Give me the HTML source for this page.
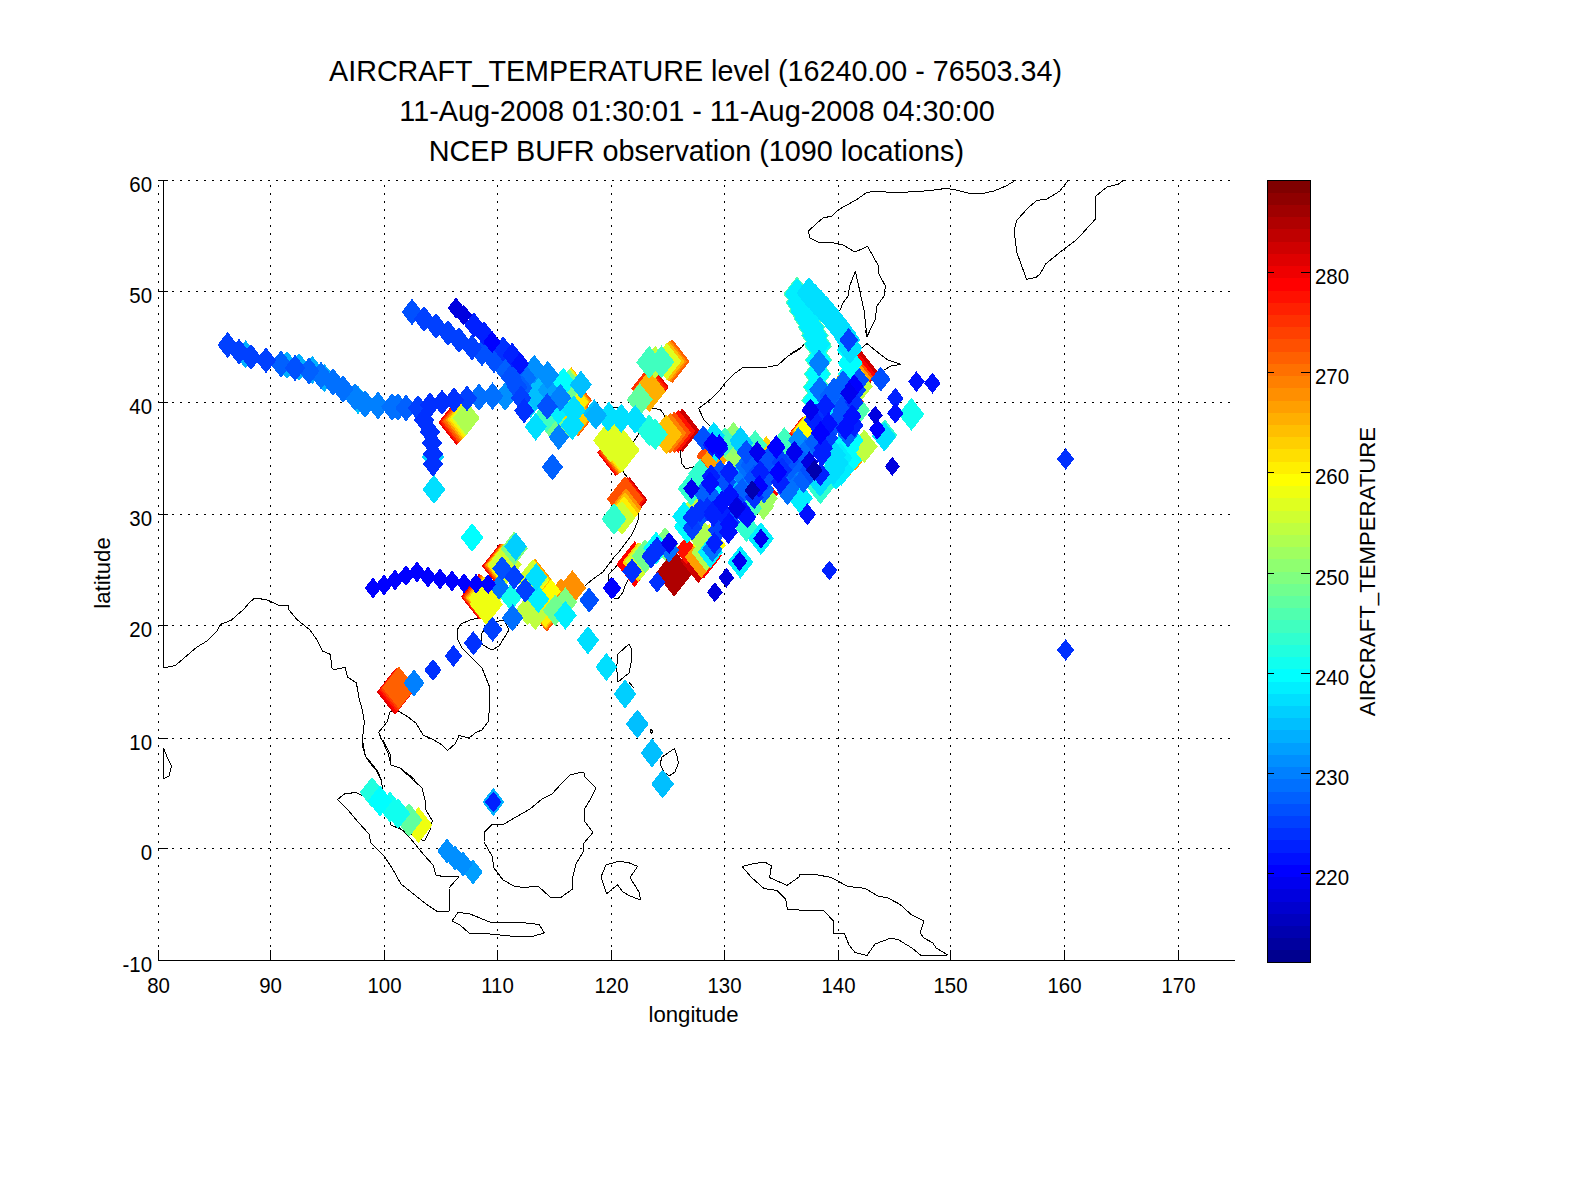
<!DOCTYPE html>
<html><head><meta charset="utf-8"><title>AIRCRAFT_TEMPERATURE</title>
<style>html,body{margin:0;padding:0;background:#fff;}svg{display:block}text{font-family:"Liberation Sans",sans-serif;fill:#000}</style></head><body>
<svg width="1575" height="1200" viewBox="0 0 1575 1200">
<rect width="1575" height="1200" fill="#fff"/>
<g stroke="#000" stroke-width="1" fill="none" shape-rendering="crispEdges" stroke-dasharray="2 6">
<path d="M158.5 185V950"/>
<path d="M270.5 185V950"/>
<path d="M384.5 185V950"/>
<path d="M497.5 185V950"/>
<path d="M611.5 185V950"/>
<path d="M724.5 185V950"/>
<path d="M838.5 185V950"/>
<path d="M950.5 185V950"/>
<path d="M1064.5 185V950"/>
<path d="M1178.5 185V950"/>
</g>
<g stroke="#000" stroke-width="1" fill="none" shape-rendering="crispEdges" stroke-dasharray="2 6">
<path d="M172 180.5H1232"/>
<path d="M172 291.5H1232"/>
<path d="M172 402.5H1232"/>
<path d="M172 514.5H1232"/>
<path d="M172 625.5H1232"/>
<path d="M172 738.5H1232"/>
<path d="M172 848.5H1232"/>
</g>
<g stroke="#000" stroke-width="1" fill="none" stroke-linejoin="round" shape-rendering="crispEdges">
<path d="M1016 180 L1006 186 L994 191 L982 193.6 L968 193 L956 190 L946 188.4 L930 190.6 L908 192 L886 192 L874 191 L866 193 L856 200 L845 206 L838 210 L832 216 L823 218 L816 224 L808.4 231 L810 238 L818 242 L834 243 L843 245 L855 252 L867.6 246.4 L873 256 L878 265 L879 274 L885.4 286 L884 296 L877 306 L875 320 L867 336.6 L864 310 L860 292 L855.4 271.4 L850 285 L848 296 L843 303 L840 310 L830 322 L814 336 L806 342 L802 347 L790 354"/>
<path d="M859 350 L867 343.6 L876 351 L888 360 L901 364.4 L891 366 L884 370 L878 376 L870 382"/>
<path d="M1124 180 L1118 184.4 L1107 187 L1096 196 L1095.6 219 L1089 226 L1082 234 L1075 241 L1064 249 L1046 263.6 L1040 274 L1036 277.4 L1026.6 279.4 L1017 253 L1015 238 L1014 230 L1017 220 L1029 207 L1037 200.4 L1047 199 L1060 191 L1068 180.4"/>
<path d="M810 338 L806 342.4 L800 349 L788 356 L778 365 L768 367 L743 367.4 L734 374 L726 382 L720 390 L712 398 L706 403 L698.6 408.4 L704 420 L710 426 L713 430 L718 438"/>
<path d="M680 450 L681 458 L682 464 L686 469 L706 463 L714 460"/>
<path d="M608 408 L613 407.4 L618 407.4 L628 413 L632 416"/>
<path d="M648 408.4 L652 408.4 L660 409.4 L663.6 413.6 L665 418"/>
<path d="M640 431 L638 435 L634 441 L632 445"/>
<path d="M620 468 L622 470 L627 477 L630 482"/>
<path d="M865 330 L867 336.6 L870 330"/>
<path d="M163.5 180 L163.5 668"/>
<path d="M163.6 668 L175 665.6 L183 659 L197 647 L207 641 L217 631 L220.4 624.4 L231 620.4 L244 609 L250 602 L254.4 598.4 L266 599.4 L278 605 L288.4 605.4 L289 610 L297 619.6 L310 630 L317 640 L322.4 651 L330.4 654.4 L332 668 L334 669.6 L345 667.4 L347.6 677 L356.4 683 L359 698 L362.4 710 L364.4 722 L362.4 740 L365 755 L369 762 L376 770 L381 780"/>
<path d="M397 708 L390 712 L387 722 L378.6 732.4 L383 742 L388 753 L391 765 L400 768 L408 774 L415 780"/>
<path d="M397 710 L400 712 L408 717 L416 723 L423 735 L434 740 L442 745 L447.6 750.4 L455 744 L459 735.6 L465 737"/>
<path d="M163.6 748 L167 757 L171.6 766 L169 776 L163.6 779 L163.6 748"/>
<path d="M459 735.6 L469 738 L476 732.4 L482 730 L488 722 L489.4 710 L490 688 L486 678 L482 668 L472 658 L462 648 L458 640 L457 630 L461 624 L470 620 L480 617.6 L490 617"/>
<path d="M481 634 L490 623 L504 620 L509 630 L499 646 L492 650 L481 644 L481 634"/>
<path d="M629 644 L618 654 L616.6 668 L618 682 L629 673 L631.6 660 L631 648 L629 644"/>
<path d="M629 682.4 L634 688"/>
<path d="M651 729 L652.4 731 L651.6 734 L650 732 L651 729"/>
<path d="M608 578 L609 574 L614 569 L619 563 L626 560 L631 566 L630 576 L625 586 L623 592 L618 599 L614 598 L609 588 L608 578"/>
<path d="M362 740 L363 748 L366 757 L373 765 L378 772 L381 779 L382.4 787 L385 798 L390 808 L390.6 825 L398 828 L410 834 L424.4 841 L430 830 L432.4 821 L426 810 L425 800 L422 788 L410 777 L400 768 L391 765 L390 754 L383 740"/>
<path d="M360 794.4 L356 792.6 L345 793.6 L337.6 799.4 L348 810 L358 822 L369 834 L371 843 L384 856 L392 868 L401 884 L416 896 L426 904 L437 911.4 L449.6 911 L449 888 L459 876.6 L445 877 L436 875 L433 865 L424 855 L410 838 L396 824 L380 806 L360 794.4"/>
<path d="M492 824.4 L504 824 L516 817 L530 809 L542 799 L552 794 L562 783 L570 775 L580 772.4 L584 773 L585 777 L596 788 L590 800 L584 810 L585 822 L593 832.4 L584 843 L583 852 L576 864 L573 876 L572.6 889 L560 898 L550 897 L538 886 L524 887.6 L514 886 L503 880 L494 868 L492 856 L484 842 L484.4 832 L492 824.4"/>
<path d="M452 921 L458 912.4 L470 914 L480 918 L492 923 L520 922.4 L539 924.4 L544.4 933 L530 937 L510 936 L490 934 L469 933 L460 925 L452 921"/>
<path d="M601 877 L606 865 L618 861.4 L628 862.4 L637.6 866.4 L630 877.6 L634 884 L639 892 L640.6 900 L630 896 L623 892 L617.6 885 L612 889 L606.6 894 L604 886 L601 877"/>
<path d="M674.6 748.4 L677 756 L678.4 763 L675 772 L669 776 L664 772 L660 764 L662 757 L674.6 748.4"/>
<path d="M742 866.4 L752 864 L765 862 L771.4 866 L769.6 877.6 L787 885.4 L799 877 L800 874.4 L816 874.6 L831 877.4 L844 884.4 L848 886.4 L865 888.4 L878 896 L888 898 L900 904.4 L911 914.4 L924 921 L920 933 L924 938 L933 943 L936 948 L948 955 L921 955.4 L912 948 L902 942 L898 939.4 L890 938.4 L875 944 L867 955.4 L855 952.4 L849 945 L844.4 933.4 L833.4 933.4 L833.4 921 L823.6 910.4 L806 910.4 L787.4 909.4 L785.6 899 L777 890.4 L764 888.6 L751 877 L742 866.4"/>
<path d="M577 593 L580 590 L586 585 L593 579 L603 572 L609 564 L614 557 L619 552 L625 544 L631 536 L635 528 L638 520 L639 517 L638.6 512"/>
<path d="M622 470 L623 472 L627 477 L629 480"/>
</g>
<g shape-rendering="crispEdges">
<path fill="#af0000" d="M674.194 549.716L692.759 573.216L674.194 596.716L655.629 573.216Z"/>
<path fill="#cf0000" d="M682.292 408.317L699.672 430.317L682.292 452.317L664.912 430.317Z"/>
<path fill="#cf0000" d="M629.4 477L647.57 500L629.4 523L611.23 500Z"/>
<path fill="#cf0000" d="M698.27 539.178L715.65 561.178L698.27 583.178L680.89 561.178Z"/>
<path fill="#cf0000" d="M860.222 349.603L878.392 372.603L860.222 395.603L842.052 372.603Z"/>
<path fill="#df0000" d="M651.394 364.98L668.774 386.98L651.394 408.98L634.014 386.98Z"/>
<path fill="#df0000" d="M395 669L413.17 692L395 715L376.83 692Z"/>
<path fill="#ef0000" d="M456.6 399.4L474.77 422.4L456.6 445.4L438.43 422.4Z"/>
<path fill="#ef0000" d="M500.143 543.13L518.313 566.13L500.143 589.13L481.973 566.13Z"/>
<path fill="#ef0000" d="M479.076 573.727L497.246 596.727L479.076 619.727L460.906 596.727Z"/>
<path fill="#ef0000" d="M615.4 429.8L633.57 452.8L615.4 475.8L597.23 452.8Z"/>
<path fill="#ef0000" d="M801.585 417.608L814.62 434.108L801.585 450.608L788.55 434.108Z"/>
<path fill="#ff0000" d="M634.568 541.187L652.738 564.187L634.568 587.187L616.398 564.187Z"/>
<path fill="#ff0000" d="M703.787 532.66L721.957 555.66L703.787 578.66L685.617 555.66Z"/>
<path fill="#ff0000" d="M770.286 484.298L778.186 494.298L770.286 504.298L762.386 494.298Z"/>
<path fill="#ff0000" d="M857.413 351.61L875.583 374.61L857.413 397.61L839.243 374.61Z"/>
<path fill="#ff0000" d="M396 668.4L413.775 690.9L396 713.4L378.225 690.9Z"/>
<path fill="#ff1000" d="M650.19 365.683L667.57 387.683L650.19 409.683L632.81 387.683Z"/>
<path fill="#ff1000" d="M678.279 409.821L695.264 431.321L678.279 452.821L661.294 431.321Z"/>
<path fill="#ff1000" d="M627.4 476.6L645.57 499.6L627.4 522.6L609.23 499.6Z"/>
<path fill="#ff1000" d="M686.232 536.143L697.292 550.143L686.232 564.143L675.172 550.143Z"/>
<path fill="#ff2000" d="M457.825 399.6L475.402 421.85L457.825 444.1L440.248 421.85Z"/>
<path fill="#ff2000" d="M616.4 429.543L634.457 452.4L616.4 475.257L598.343 452.4Z"/>
<path fill="#ff2000" d="M802.347 417.205L814.987 433.205L802.347 449.205L789.707 433.205Z"/>
<path fill="#ff2000" d="M397 667.8L414.38 689.8L397 711.8L379.62 689.8Z"/>
<path fill="#ff3000" d="M648.485 366.686L665.865 388.686L648.485 410.686L631.105 388.686Z"/>
<path fill="#ff3000" d="M501.146 543.229L519 565.829L501.146 588.429L483.292 565.829Z"/>
<path fill="#ff3000" d="M480.28 574.428L498.134 597.028L480.28 619.628L462.426 597.028Z"/>
<path fill="#ff4000" d="M617.4 429.286L635.344 452L617.4 474.714L599.456 452Z"/>
<path fill="#ff4000" d="M851.194 385.197L864.624 402.197L851.194 419.197L837.764 402.197Z"/>
<path fill="#ff4000" d="M398 667.2L414.985 688.7L398 710.2L381.015 688.7Z"/>
<path fill="#ff5000" d="M459.05 399.8L476.035 421.3L459.05 442.8L442.065 421.3Z"/>
<path fill="#ff5000" d="M575.333 379.19L591.923 400.19L575.333 421.19L558.743 400.19Z"/>
<path fill="#ff5000" d="M578.343 394.238L594.933 415.238L578.343 436.238L561.753 415.238Z"/>
<path fill="#ff5000" d="M674.267 411.324L690.857 432.324L674.267 453.324L657.677 432.324Z"/>
<path fill="#ff5000" d="M546.79 588.77L563.775 610.27L546.79 631.77L529.805 610.27Z"/>
<path fill="#ff5000" d="M625 476L643.17 499L625 522L606.83 499Z"/>
<path fill="#ff5000" d="M712.102 436.178L727.902 456.178L712.102 476.178L696.302 456.178Z"/>
<path fill="#ff5000" d="M855.206 354.116L872.981 376.616L855.206 399.116L837.431 376.616Z"/>
<path fill="#ff5000" d="M846.178 367.152L862.768 388.152L846.178 409.152L829.588 388.152Z"/>
<path fill="#ff6000" d="M672.26 339.299L689.64 361.299L672.26 383.299L654.88 361.299Z"/>
<path fill="#ff6000" d="M481.484 575.129L499.022 597.329L481.484 619.529L463.946 597.329Z"/>
<path fill="#ff6000" d="M803.11 416.802L815.355 432.302L803.11 447.802L790.865 432.302Z"/>
<path fill="#ff6000" d="M399 666.6L415.59 687.6L399 708.6L382.41 687.6Z"/>
<path fill="#ff7000" d="M460.275 400L476.667 420.75L460.275 441.5L443.882 420.75Z"/>
<path fill="#ff7000" d="M574.832 380.192L591.027 400.692L574.832 421.192L558.637 400.692Z"/>
<path fill="#ff7000" d="M502.149 543.328L519.687 565.528L502.149 587.728L484.611 565.528Z"/>
<path fill="#ff7000" d="M618.4 429.029L636.231 451.6L618.4 474.171L600.569 451.6Z"/>
<path fill="#ff7000" d="M840.219 443.575L856.019 463.575L840.219 483.575L824.419 463.575Z"/>
<path fill="#ff8000" d="M577.674 395.239L593.737 415.572L577.674 435.906L561.611 415.572Z"/>
<path fill="#ff8000" d="M670.254 412.827L686.449 433.327L670.254 453.827L654.059 433.327Z"/>
<path fill="#ff8000" d="M546.289 588.934L562.616 609.601L546.289 630.268L529.962 609.601Z"/>
<path fill="#ff8f00" d="M670.254 340.299L686.844 361.299L670.254 382.299L653.664 361.299Z"/>
<path fill="#ff8f00" d="M535.254 558.676L552.634 580.676L535.254 602.676L517.874 580.676Z"/>
<path fill="#ff8f00" d="M572.371 570.198L586.196 587.698L572.371 605.198L558.546 587.698Z"/>
<path fill="#ff8f00" d="M560.835 578.219L573.475 594.219L560.835 610.219L548.195 594.219Z"/>
<path fill="#ff8f00" d="M626 488L641.8 508L626 528L610.2 508Z"/>
<path fill="#ff8f00" d="M803.872 416.399L815.722 431.399L803.872 446.399L792.022 431.399Z"/>
<path fill="#ff8f00" d="M848.044 437.857L863.844 457.857L848.044 477.857L832.244 457.857Z"/>
<path fill="#ff9f00" d="M461.5 400.2L477.3 420.2L461.5 440.2L445.7 420.2Z"/>
<path fill="#ff9f00" d="M574.33 381.194L590.13 401.194L574.33 421.194L558.53 401.194Z"/>
<path fill="#ff9f00" d="M577.005 396.24L592.542 415.907L577.005 435.574L561.469 415.907Z"/>
<path fill="#ff9f00" d="M482.688 575.83L499.91 597.63L482.688 619.43L465.466 597.63Z"/>
<path fill="#ff9f00" d="M619.4 428.771L637.119 451.2L619.4 473.629L601.681 451.2Z"/>
<path fill="#ff9f00" d="M701.279 536.165L717.869 557.165L701.279 578.165L684.689 557.165Z"/>
<path fill="#ff9f00" d="M714.61 442.187L728.04 459.187L714.61 476.187L701.18 459.187Z"/>
<path fill="#ff9f00" d="M853.702 355.92L871.082 377.92L853.702 399.92L836.322 377.92Z"/>
<path fill="#ff9f00" d="M855.768 430.032L871.568 450.032L855.768 470.032L839.968 450.032Z"/>
<path fill="#ffaf00" d="M571.321 367.149L587.121 387.149L571.321 407.149L555.521 387.149Z"/>
<path fill="#ffaf00" d="M649.187 370.194L665.777 391.194L649.187 412.194L632.597 391.194Z"/>
<path fill="#ffaf00" d="M503.152 543.427L520.374 565.227L503.152 587.027L485.93 565.227Z"/>
<path fill="#ffbf00" d="M668.749 341.299L684.549 361.299L668.749 381.299L652.949 361.299Z"/>
<path fill="#ffbf00" d="M666.241 414.33L682.041 434.33L666.241 454.33L650.441 434.33Z"/>
<path fill="#ffbf00" d="M534.251 559.008L551.104 580.342L534.251 601.675L517.397 580.342Z"/>
<path fill="#ffbf00" d="M545.787 589.099L561.456 608.932L545.787 628.766L530.119 608.932Z"/>
<path fill="#ffbf00" d="M625 492L640.01 511L625 530L609.99 511Z"/>
<path fill="#ffcf00" d="M462.725 400.4L477.933 419.65L462.725 438.9L447.518 419.65Z"/>
<path fill="#ffcf00" d="M573.829 382.195L589.234 401.695L573.829 421.195L558.424 401.695Z"/>
<path fill="#ffcf00" d="M576.337 397.241L591.347 416.241L576.337 435.241L561.327 416.241Z"/>
<path fill="#ffcf00" d="M483.891 576.531L500.797 597.931L483.891 619.331L466.985 597.931Z"/>
<path fill="#ffcf00" d="M620.4 428.514L638.006 450.8L620.4 473.086L602.794 450.8Z"/>
<path fill="#ffcf00" d="M638.079 542.181L653.879 562.181L638.079 582.181L622.279 562.181Z"/>
<path fill="#ffcf00" d="M766.273 436.159L777.333 450.159L766.273 464.159L755.213 450.159Z"/>
<path fill="#ffcf00" d="M804.634 415.997L816.089 430.497L804.634 444.997L793.179 430.497Z"/>
<path fill="#ffdf00" d="M852.197 358.124L868.787 379.124L852.197 400.124L835.607 379.124Z"/>
<path fill="#ffef00" d="M463.95 400.6L478.565 419.1L463.95 437.6L449.335 419.1Z"/>
<path fill="#ffef00" d="M570.694 367.648L585.901 386.898L570.694 406.148L555.486 386.898Z"/>
<path fill="#ffef00" d="M573.327 383.197L588.337 402.197L573.327 421.197L558.317 402.197Z"/>
<path fill="#ffef00" d="M504.156 543.526L521.062 564.926L504.156 586.326L487.25 564.926Z"/>
<path fill="#ffef00" d="M545.286 589.263L560.296 608.263L545.286 627.263L530.276 608.263Z"/>
<path fill="#ffef00" d="M621.4 428.257L638.893 450.4L621.4 472.543L603.907 450.4Z"/>
<path fill="#ffef00" d="M624 496L638.22 514L624 532L609.78 514Z"/>
<path fill="#ffff00" d="M533.248 559.341L549.574 580.007L533.248 600.674L516.921 580.007Z"/>
<path fill="#ffff00" d="M551.305 579.21L560.785 591.21L551.305 603.21L541.825 591.21Z"/>
<path fill="#ffff00" d="M709.305 524.127L725.895 545.127L709.305 566.127L692.715 545.127Z"/>
<path fill="#ffff00" d="M805.397 415.594L816.457 429.594L805.397 443.594L794.337 429.594Z"/>
<path fill="#efff10" d="M485.095 577.232L501.685 598.232L485.095 619.232L468.505 598.232Z"/>
<path fill="#efff10" d="M486.299 583.251L502.889 604.251L486.299 625.251L469.709 604.251Z"/>
<path fill="#efff10" d="M850.692 360.127L866.492 380.127L850.692 400.127L834.892 380.127Z"/>
<path fill="#efff10" d="M418.4 807L432.62 825L418.4 843L404.18 825Z"/>
<path fill="#dfff20" d="M465.175 400.8L479.197 418.55L465.175 436.3L451.153 418.55Z"/>
<path fill="#dfff20" d="M570.067 368.148L584.682 386.648L570.067 405.148L555.452 386.648Z"/>
<path fill="#dfff20" d="M666.743 342.799L681.358 361.299L666.743 379.799L652.128 361.299Z"/>
<path fill="#dfff20" d="M622.4 428L639.78 450L622.4 472L605.02 450Z"/>
<path fill="#dfff20" d="M610.4 418.4L627.78 440.4L610.4 462.4L593.02 440.4Z"/>
<path fill="#cfff30" d="M505.159 543.625L521.749 564.625L505.159 585.625L488.569 564.625Z"/>
<path fill="#cfff30" d="M532.244 559.673L548.044 579.673L532.244 599.673L516.444 579.673Z"/>
<path fill="#cfff30" d="M622 501L635.43 518L622 535L608.57 518Z"/>
<path fill="#cfff30" d="M640.086 542.178L655.096 561.178L640.086 580.178L625.076 561.178Z"/>
<path fill="#bfff40" d="M655.206 345.802L668.241 362.302L655.206 378.802L642.171 362.302Z"/>
<path fill="#bfff40" d="M527.229 595.27L539.079 610.27L527.229 625.27L515.379 610.27Z"/>
<path fill="#bfff40" d="M535.254 600.286L547.104 615.286L535.254 630.286L523.404 615.286Z"/>
<path fill="#bfff40" d="M694.044 493.34L705.104 507.34L694.044 521.34L682.984 507.34Z"/>
<path fill="#bfff40" d="M856.21 365.146L872.8 386.146L856.21 407.146L839.62 386.146Z"/>
<path fill="#bfff40" d="M864.235 429.337L877.665 446.337L864.235 463.337L850.805 446.337Z"/>
<path fill="#afff50" d="M466.4 401L479.83 418L466.4 435L452.97 418Z"/>
<path fill="#afff50" d="M569.44 368.647L583.462 386.397L569.44 404.147L555.417 386.397Z"/>
<path fill="#afff50" d="M706.295 533.149L721.305 552.149L706.295 571.149L691.285 552.149Z"/>
<path fill="#afff50" d="M703.286 520.105L717.506 538.105L703.286 556.105L689.066 538.105Z"/>
<path fill="#9fff60" d="M763.476 492.003L774.536 506.003L763.476 520.003L752.416 506.003Z"/>
<path fill="#9fff60" d="M734.171 442.178L745.231 456.178L734.171 470.178L723.111 456.178Z"/>
<path fill="#9fff60" d="M765.27 482.311L777.91 498.311L765.27 514.311L752.63 498.311Z"/>
<path fill="#8fff70" d="M560.286 413.286L573.716 430.286L560.286 447.286L546.856 430.286Z"/>
<path fill="#8fff70" d="M733.454 421.838L745.304 436.838L733.454 451.838L721.604 436.838Z"/>
<path fill="#8fff70" d="M733.168 428.133L744.228 442.133L733.168 456.133L722.108 442.133Z"/>
<path fill="#80ff80" d="M514.187 531.575L527.617 548.575L514.187 565.575L500.757 548.575Z"/>
<path fill="#80ff80" d="M565.349 587.244L577.199 602.244L565.349 617.244L553.499 602.244Z"/>
<path fill="#80ff80" d="M665.165 527.124L678.595 544.124L665.165 561.124L651.735 544.124Z"/>
<path fill="#70ff8f" d="M568.813 369.146L582.243 386.146L568.813 403.146L555.383 386.146Z"/>
<path fill="#70ff8f" d="M552.26 406.263L565.69 423.263L552.26 440.263L538.83 423.263Z"/>
<path fill="#70ff8f" d="M555.317 594.27L567.957 610.27L555.317 626.27L542.677 610.27Z"/>
<path fill="#70ff8f" d="M645.102 539.162L658.532 556.162L645.102 573.162L631.672 556.162Z"/>
<path fill="#60ff9f" d="M639.657 383.221L652.692 399.721L639.657 416.221L626.622 399.721Z"/>
<path fill="#60ff9f" d="M409 803L422.43 820L409 837L395.57 820Z"/>
<path fill="#50ffaf" d="M818.089 328.519L831.914 346.019L818.089 363.519L804.264 346.019Z"/>
<path fill="#50ffaf" d="M818.59 342.563L832.415 360.063L818.59 377.563L804.765 360.063Z"/>
<path fill="#50ffaf" d="M817.587 356.608L831.412 374.108L817.587 391.608L803.762 374.108Z"/>
<path fill="#50ffaf" d="M816.584 369.649L830.409 387.149L816.584 404.649L802.759 387.149Z"/>
<path fill="#50ffaf" d="M815.079 382.69L828.904 400.19L815.079 417.69L801.254 400.19Z"/>
<path fill="#50ffaf" d="M858.216 395.222L870.066 410.222L858.216 425.222L846.366 410.222Z"/>
<path fill="#50ffaf" d="M797 276.5L810.825 294L797 311.5L783.175 294Z"/>
<path fill="#50ffaf" d="M799.198 285.294L813.023 302.794L799.198 320.294L785.373 302.794Z"/>
<path fill="#50ffaf" d="M802.858 293.501L816.683 311.001L802.858 328.501L789.033 311.001Z"/>
<path fill="#50ffaf" d="M807.355 301.371L821.18 318.871L807.355 336.371L793.53 318.871Z"/>
<path fill="#50ffaf" d="M811.228 309.561L825.053 327.061L811.228 344.561L797.403 327.061Z"/>
<path fill="#50ffaf" d="M814.837 317.867L828.662 335.367L814.837 352.867L801.012 335.367Z"/>
<path fill="#50ffaf" d="M817.6 326.5L831.425 344L817.6 361.5L803.775 344Z"/>
<path fill="#40ffbf" d="M546.241 400.241L558.881 416.241L546.241 432.241L533.601 416.241Z"/>
<path fill="#40ffbf" d="M649.187 345.802L662.222 362.302L649.187 378.802L636.152 362.302Z"/>
<path fill="#40ffbf" d="M661.426 345.401L674.461 361.901L661.426 378.401L648.391 361.901Z"/>
<path fill="#40ffbf" d="M725.143 427.133L736.993 442.133L725.143 457.133L713.293 442.133Z"/>
<path fill="#40ffbf" d="M755.238 430.143L767.088 445.143L755.238 460.143L743.388 445.143Z"/>
<path fill="#40ffbf" d="M784.33 427.133L796.18 442.133L784.33 457.133L772.48 442.133Z"/>
<path fill="#40ffbf" d="M750.222 493.343L762.072 508.343L750.222 523.343L738.372 508.343Z"/>
<path fill="#30ffcf" d="M614 503L626.64 519L614 535L601.36 519Z"/>
<path fill="#30ffcf" d="M746.422 512.07L758.272 527.07L746.422 542.07L734.572 527.07Z"/>
<path fill="#30ffcf" d="M691.035 471.781L704.465 488.781L691.035 505.781L677.605 488.781Z"/>
<path fill="#30ffcf" d="M700.063 458.733L711.913 473.733L700.063 488.733L688.213 473.733Z"/>
<path fill="#30ffcf" d="M820.444 470.276L833.874 487.276L820.444 504.276L807.014 487.276Z"/>
<path fill="#30ffcf" d="M884.8 419.302L897.44 435.302L884.8 451.302L872.16 435.302Z"/>
<path fill="#30ffcf" d="M833.197 454.095L845.837 470.095L833.197 486.095L820.557 470.095Z"/>
<path fill="#20ffdf" d="M649.187 414.317L661.827 430.317L649.187 446.317L636.547 430.317Z"/>
<path fill="#20ffdf" d="M655.206 418.33L667.846 434.33L655.206 450.33L642.566 434.33Z"/>
<path fill="#20ffdf" d="M372 776.9L384.245 792.4L372 807.9L359.755 792.4Z"/>
<path fill="#10ffef" d="M511.178 583.229L522.238 597.229L511.178 611.229L500.118 597.229Z"/>
<path fill="#10ffef" d="M911.384 397.735L924.419 414.235L911.384 430.735L898.349 414.235Z"/>
<path fill="#10ffef" d="M390 791.5L402.245 807L390 822.5L377.755 807Z"/>
<path fill="#10ffef" d="M398 798.1L410.245 813.6L398 829.1L385.755 813.6Z"/>
<path fill="#00ffff" d="M563.295 367.635L575.145 382.635L563.295 397.635L551.445 382.635Z"/>
<path fill="#00ffff" d="M472.054 523.04L483.509 537.54L472.054 552.04L460.599 537.54Z"/>
<path fill="#00ffff" d="M656.137 531.637L669.172 548.137L656.137 564.637L643.102 548.137Z"/>
<path fill="#00ffff" d="M687.235 509.568L700.665 526.568L687.235 543.568L673.805 526.568Z"/>
<path fill="#00ffff" d="M720.127 474.286L732.767 490.286L720.127 506.286L707.487 490.286Z"/>
<path fill="#00ffff" d="M818.089 330.019L830.729 346.019L818.089 362.019L805.449 346.019Z"/>
<path fill="#00ffff" d="M818.59 344.063L831.23 360.063L818.59 376.063L805.95 360.063Z"/>
<path fill="#00ffff" d="M817.587 358.108L830.227 374.108L817.587 390.108L804.947 374.108Z"/>
<path fill="#00ffff" d="M816.584 371.149L829.224 387.149L816.584 403.149L803.944 387.149Z"/>
<path fill="#00ffff" d="M815.079 384.19L827.719 400.19L815.079 416.19L802.439 400.19Z"/>
<path fill="#00ffff" d="M849.187 334.032L861.827 350.032L849.187 366.032L836.547 350.032Z"/>
<path fill="#00ffff" d="M850.19 347.073L862.83 363.073L850.19 379.073L837.55 363.073Z"/>
<path fill="#00ffff" d="M850.19 358.108L862.83 374.108L850.19 390.108L837.55 374.108Z"/>
<path fill="#00ffff" d="M846.178 431.343L859.608 448.343L846.178 465.343L832.748 448.343Z"/>
<path fill="#00ffff" d="M850.19 423.317L863.62 440.317L850.19 457.317L836.76 440.317Z"/>
<path fill="#00ffff" d="M849.248 444.063L861.888 460.063L849.248 476.063L836.608 460.063Z"/>
<path fill="#00ffff" d="M380 785.5L392.245 801L380 816.5L367.755 801Z"/>
<path fill="#00ffff" d="M846 426L858.64 442L846 458L833.36 442Z"/>
<path fill="#00efff" d="M538.263 585.235L549.323 599.235L538.263 613.235L527.203 599.235Z"/>
<path fill="#00efff" d="M565.349 600.786L576.804 615.286L565.349 629.786L553.894 615.286Z"/>
<path fill="#00efff" d="M710.308 536.149L722.948 552.149L710.308 568.149L697.668 552.149Z"/>
<path fill="#00efff" d="M760.968 522.106L774.003 538.606L760.968 555.106L747.933 538.606Z"/>
<path fill="#00efff" d="M740.403 545.681L753.438 562.181L740.403 578.681L727.368 562.181Z"/>
<path fill="#00efff" d="M716.114 430.146L728.754 446.146L716.114 462.146L703.474 446.146Z"/>
<path fill="#00efff" d="M800.381 482.311L813.021 498.311L800.381 514.311L787.741 498.311Z"/>
<path fill="#00efff" d="M684.013 501.368L695.863 516.368L684.013 531.368L672.163 516.368Z"/>
<path fill="#00efff" d="M797 278L809.64 294L797 310L784.36 294Z"/>
<path fill="#00efff" d="M799.198 286.794L811.838 302.794L799.198 318.794L786.558 302.794Z"/>
<path fill="#00efff" d="M802.858 295.001L815.498 311.001L802.858 327.001L790.218 311.001Z"/>
<path fill="#00efff" d="M807.355 302.871L819.995 318.871L807.355 334.871L794.715 318.871Z"/>
<path fill="#00efff" d="M811.228 311.061L823.868 327.061L811.228 343.061L798.588 327.061Z"/>
<path fill="#00efff" d="M814.837 319.367L827.477 335.367L814.837 351.367L802.197 335.367Z"/>
<path fill="#00efff" d="M817.6 328L830.24 344L817.6 360L804.96 344Z"/>
<path fill="#00efff" d="M841.222 454.095L853.862 470.095L841.222 486.095L828.582 470.095Z"/>
<path fill="#00efff" d="M840 442L852.64 458L840 474L827.36 458Z"/>
<path fill="#00efff" d="M836 458L848.64 474L836 490L823.36 474Z"/>
<path fill="#00efff" d="M558.279 395.722L569.734 410.222L558.279 424.722L546.824 410.222Z"/>
<path fill="#00dfff" d="M434 474.8L445.534 489.4L434 504L422.466 489.4Z"/>
<path fill="#00dfff" d="M573.829 395.222L585.679 410.222L573.829 425.222L561.979 410.222Z"/>
<path fill="#00dfff" d="M572.324 410.27L584.174 425.27L572.324 440.27L560.474 425.27Z"/>
<path fill="#00dfff" d="M535.708 412.775L546.768 426.775L535.708 440.775L524.648 426.775Z"/>
<path fill="#00dfff" d="M608.94 401.741L620.395 416.241L608.94 430.741L597.485 416.241Z"/>
<path fill="#00dfff" d="M621.479 403.748L632.934 418.248L621.479 432.748L610.024 418.248Z"/>
<path fill="#00dfff" d="M635.143 404.783L646.598 419.283L635.143 433.783L623.688 419.283Z"/>
<path fill="#00dfff" d="M621.098 403.779L632.553 418.279L621.098 432.779L609.643 418.279Z"/>
<path fill="#00dfff" d="M608.057 402.776L619.512 417.276L608.057 431.776L596.602 417.276Z"/>
<path fill="#00dfff" d="M713.892 421.835L724.952 435.835L713.892 449.835L702.832 435.835Z"/>
<path fill="#00dfff" d="M536.257 563.165L547.317 577.165L536.257 591.165L525.197 577.165Z"/>
<path fill="#00dfff" d="M587.921 626.365L598.981 640.365L587.921 654.365L576.861 640.365Z"/>
<path fill="#00dfff" d="M588 626L599.06 640L588 654L576.94 640Z"/>
<path fill="#00dfff" d="M606.4 653L617.46 667L606.4 681L595.34 667Z"/>
<path fill="#00dfff" d="M834.489 400.048L846.339 415.048L834.489 430.048L822.639 415.048Z"/>
<path fill="#00dfff" d="M834.489 440.175L846.339 455.175L834.489 470.175L822.639 455.175Z"/>
<path fill="#00dfff" d="M833.486 455.222L845.336 470.222L833.486 485.222L821.636 470.222Z"/>
<path fill="#00dfff" d="M884.298 421.505L896.148 436.505L884.298 451.505L872.448 436.505Z"/>
<path fill="#00dfff" d="M809 277L821.64 293L809 309L796.36 293Z"/>
<path fill="#00dfff" d="M814.937 283.332L827.577 299.332L814.937 315.332L802.297 299.332Z"/>
<path fill="#00dfff" d="M820.873 289.665L833.513 305.665L820.873 321.665L808.233 305.665Z"/>
<path fill="#00dfff" d="M826.646 296.142L839.286 312.142L826.646 328.142L814.006 312.142Z"/>
<path fill="#00dfff" d="M832.237 302.782L844.877 318.782L832.237 334.782L819.597 318.782Z"/>
<path fill="#00dfff" d="M837.828 309.421L850.468 325.421L837.828 341.421L825.188 325.421Z"/>
<path fill="#00dfff" d="M842.945 316.417L855.585 332.417L842.945 348.417L830.305 332.417Z"/>
<path fill="#00dfff" d="M847.759 323.639L860.399 339.639L847.759 355.639L835.119 339.639Z"/>
<path fill="#00dfff" d="M850 332L862.64 348L850 364L837.36 348Z"/>
<path fill="#00dfff" d="M836.206 447.073L848.846 463.073L836.206 479.073L823.566 463.073Z"/>
<path fill="#00dfff" d="M820 467L831.85 482L820 497L808.15 482Z"/>
<path fill="#00cfff" d="M433 443L444.06 457L433 471L421.94 457Z"/>
<path fill="#00cfff" d="M530.19 390.203L541.25 404.203L530.19 418.203L519.13 404.203Z"/>
<path fill="#00cfff" d="M740.476 426.349L751.536 440.349L740.476 454.349L729.416 440.349Z"/>
<path fill="#00cfff" d="M515.692 532.268L526.989 546.568L515.692 560.868L504.395 546.568Z"/>
<path fill="#00cfff" d="M741.695 428.637L753.15 443.137L741.695 457.637L730.24 443.137Z"/>
<path fill="#00cfff" d="M625 679.5L636.455 694L625 708.5L613.545 694Z"/>
<path fill="#00bfff" d="M358 385.67L369.321 400L358 414.33L346.679 400Z"/>
<path fill="#00bfff" d="M539.219 371.14L549.489 384.14L539.219 397.14L528.949 384.14Z"/>
<path fill="#00bfff" d="M580.851 370.641L591.911 384.641L580.851 398.641L569.791 384.641Z"/>
<path fill="#00bfff" d="M535.206 382.178L546.266 396.178L535.206 410.178L524.146 396.178Z"/>
<path fill="#00bfff" d="M594.394 399.233L605.849 413.733L594.394 428.233L582.939 413.733Z"/>
<path fill="#00bfff" d="M736.178 466.254L747.238 480.254L736.178 494.254L725.118 480.254Z"/>
<path fill="#00bfff" d="M637.4 709.5L648.855 724L637.4 738.5L625.945 724Z"/>
<path fill="#00bfff" d="M652 738.5L663.455 753L652 767.5L640.545 753Z"/>
<path fill="#00bfff" d="M662.6 769.5L674.055 784L662.6 798.5L651.145 784Z"/>
<path fill="#00afff" d="M245.6 340.34L256.707 354.4L245.6 368.46L234.493 354.4Z"/>
<path fill="#00afff" d="M287 350.94L298.107 365L287 379.06L275.893 365Z"/>
<path fill="#00afff" d="M299 352.94L310.107 367L299 381.06L287.893 367Z"/>
<path fill="#00afff" d="M312.4 355.94L323.507 370L312.4 384.06L301.293 370Z"/>
<path fill="#00afff" d="M324.4 363.94L335.507 378L324.4 392.06L313.293 378Z"/>
<path fill="#00afff" d="M596.019 401.27L607.079 415.27L596.019 429.27L584.959 415.27Z"/>
<path fill="#00afff" d="M493.4 788L504.46 802L493.4 816L482.34 802Z"/>
<path fill="#009fff" d="M473 859.5L482.875 872L473 884.5L463.125 872Z"/>
<path fill="#009fff" d="M548.248 376.659L558.913 390.159L548.248 403.659L537.583 390.159Z"/>
<path fill="#008fff" d="M534.203 354.772L545.516 369.092L534.203 383.412L522.89 369.092Z"/>
<path fill="#008fff" d="M547.746 360.791L559.059 375.111L547.746 389.431L536.433 375.111Z"/>
<path fill="#008fff" d="M505.111 382.359L516.424 396.679L505.111 410.999L493.798 396.679Z"/>
<path fill="#008fff" d="M798.375 427.127L808.645 440.127L798.375 453.127L788.105 440.127Z"/>
<path fill="#008fff" d="M447 838.5L456.875 851L447 863.5L437.125 851Z"/>
<path fill="#008fff" d="M455 845.5L464.875 858L455 870.5L445.125 858Z"/>
<path fill="#008fff" d="M463 851.5L472.875 864L463 876.5L453.125 864Z"/>
<path fill="#0080ff" d="M355 382.95L366.099 397L355 411.05L343.901 397Z"/>
<path fill="#0080ff" d="M365 389.95L376.099 404L365 418.05L353.901 404Z"/>
<path fill="#0080ff" d="M378 391.55L389.099 405.6L378 419.65L366.901 405.6Z"/>
<path fill="#0080ff" d="M560.286 383.633L571.385 397.683L560.286 411.733L549.186 397.683Z"/>
<path fill="#0080ff" d="M558.781 424.107L569.051 437.107L558.781 450.107L548.511 437.107Z"/>
<path fill="#0080ff" d="M744.203 465.248L754.473 478.248L744.203 491.248L733.933 478.248Z"/>
<path fill="#0080ff" d="M793.359 463.241L803.629 476.241L793.359 489.241L783.089 476.241Z"/>
<path fill="#0080ff" d="M770.286 457.222L780.556 470.222L770.286 483.222L760.016 470.222Z"/>
<path fill="#0080ff" d="M819.092 349.573L829.757 363.073L819.092 376.573L808.427 363.073Z"/>
<path fill="#0080ff" d="M414 669.5L424.665 683L414 696.5L403.335 683Z"/>
<path fill="#0070ff" d="M321 361.82L331.886 375.6L321 389.38L310.114 375.6Z"/>
<path fill="#0070ff" d="M333 368.22L343.886 382L333 395.78L322.114 382Z"/>
<path fill="#0070ff" d="M343 375.22L353.886 389L343 402.78L332.114 389Z"/>
<path fill="#0070ff" d="M392 393.22L402.886 407L392 420.78L381.114 407Z"/>
<path fill="#0070ff" d="M398 393.22L408.886 407L398 420.78L387.114 407Z"/>
<path fill="#0070ff" d="M479.029 383.401L489.915 397.181L479.029 410.961L468.142 397.181Z"/>
<path fill="#0070ff" d="M492.571 382.398L503.458 396.178L492.571 409.958L481.685 396.178Z"/>
<path fill="#0070ff" d="M499.14 574.697L509.015 587.197L499.14 599.697L489.265 587.197Z"/>
<path fill="#0070ff" d="M512.683 604.294L523.348 617.794L512.683 631.294L502.018 617.794Z"/>
<path fill="#0070ff" d="M589 587.5L598.875 600L589 612.5L579.125 600Z"/>
<path fill="#0070ff" d="M512 605L522.27 618L512 631L501.73 618Z"/>
<path fill="#0070ff" d="M669.178 537.643L679.053 550.143L669.178 562.643L659.303 550.143Z"/>
<path fill="#0070ff" d="M712.314 536.14L722.584 549.14L712.314 562.14L702.044 549.14Z"/>
<path fill="#0070ff" d="M787.34 479.292L797.61 492.292L787.34 505.292L777.07 492.292Z"/>
<path fill="#0070ff" d="M837.149 383.178L847.419 396.178L837.149 409.178L826.879 396.178Z"/>
<path fill="#0070ff" d="M792 470.22L802.886 484L792 497.78L781.114 484Z"/>
<path fill="#0070ff" d="M820 376.22L830.886 390L820 403.78L809.114 390Z"/>
<path fill="#0070ff" d="M746 452.22L756.886 466L746 479.78L735.114 466Z"/>
<path fill="#0070ff" d="M805.397 439.165L815.667 452.165L805.397 465.165L795.127 452.165Z"/>
<path fill="#0070ff" d="M736.178 487.317L746.448 500.317L736.178 513.317L725.908 500.317Z"/>
<path fill="#0070ff" d="M526.178 365.121L536.448 378.121L526.178 391.121L515.908 378.121Z"/>
<path fill="#0060ff" d="M281 350.49L291.673 364L281 377.51L270.327 364Z"/>
<path fill="#0060ff" d="M309 357.49L319.673 371L309 384.51L298.327 371Z"/>
<path fill="#0060ff" d="M406 394.49L416.673 408L406 421.51L395.327 408Z"/>
<path fill="#0060ff" d="M552.4 453.5L563.065 467L552.4 480.5L541.735 467Z"/>
<path fill="#0060ff" d="M503.105 353.576L513.778 367.086L503.105 380.596L492.432 367.086Z"/>
<path fill="#0060ff" d="M703.359 425.341L713.234 437.841L703.359 450.341L693.484 437.841Z"/>
<path fill="#0060ff" d="M750.222 452.706L760.097 465.206L750.222 477.706L740.347 465.206Z"/>
<path fill="#0060ff" d="M803.39 467.254L813.66 480.254L803.39 493.254L793.12 480.254Z"/>
<path fill="#0060ff" d="M834.14 377.159L844.41 390.159L834.14 403.159L823.87 390.159Z"/>
<path fill="#0060ff" d="M843.168 370.137L853.438 383.137L843.168 396.137L832.898 383.137Z"/>
<path fill="#0060ff" d="M800 446.49L810.673 460L800 473.51L789.327 460Z"/>
<path fill="#0060ff" d="M712 484.49L722.673 498L712 511.51L701.327 498Z"/>
<path fill="#0060ff" d="M770 448.49L780.673 462L770 475.51L759.327 462Z"/>
<path fill="#0060ff" d="M830 382.49L840.673 396L830 409.51L819.327 396Z"/>
<path fill="#0060ff" d="M848 420.49L858.673 434L848 447.51L837.327 434Z"/>
<path fill="#0060ff" d="M764 476.49L774.673 490L764 503.51L753.327 490Z"/>
<path fill="#0060ff" d="M702 496.49L712.673 510L702 523.51L691.327 510Z"/>
<path fill="#0060ff" d="M790.349 455.716L800.224 468.216L790.349 480.716L780.474 468.216Z"/>
<path fill="#0060ff" d="M742.197 477.786L752.072 490.286L742.197 502.786L732.322 490.286Z"/>
<path fill="#0060ff" d="M703.073 480.795L712.948 493.295L703.073 505.795L693.198 493.295Z"/>
<path fill="#0060ff" d="M814.425 429.633L824.3 442.133L814.425 454.633L804.55 442.133Z"/>
<path fill="#0060ff" d="M515.143 357.295L525.255 370.095L515.143 382.895L505.031 370.095Z"/>
<path fill="#0060ff" d="M522.165 375.352L532.277 388.152L522.165 400.952L512.053 388.152Z"/>
<path fill="#0050ff" d="M295 354.76L305.46 368L295 381.24L284.54 368Z"/>
<path fill="#0050ff" d="M412 298.76L422.46 312L412 325.24L401.54 312Z"/>
<path fill="#0050ff" d="M482.038 339.801L492.498 353.041L482.038 366.281L471.578 353.041Z"/>
<path fill="#0050ff" d="M494.076 346.823L504.536 360.063L494.076 373.303L483.617 360.063Z"/>
<path fill="#0050ff" d="M511.13 363.877L521.59 377.117L511.13 390.357L500.671 377.117Z"/>
<path fill="#0050ff" d="M517.149 373.909L527.609 387.149L517.149 400.389L506.69 387.149Z"/>
<path fill="#0050ff" d="M547.244 393.17L557.704 406.41L547.244 419.65L536.785 406.41Z"/>
<path fill="#0050ff" d="M502.149 556.138L512.024 568.638L502.149 581.138L492.274 568.638Z"/>
<path fill="#0050ff" d="M589.425 587.938L599.142 600.238L589.425 612.538L579.708 600.238Z"/>
<path fill="#0050ff" d="M492 617L501.48 629L492 641L482.52 629Z"/>
<path fill="#0050ff" d="M700.276 503.535L710.151 516.035L700.276 528.535L690.401 516.035Z"/>
<path fill="#0050ff" d="M703.073 425.621L712.948 438.121L703.073 450.621L693.198 438.121Z"/>
<path fill="#0050ff" d="M767.276 447.69L777.151 460.19L767.276 472.69L757.401 460.19Z"/>
<path fill="#0050ff" d="M880.787 366.624L890.662 379.124L880.787 391.624L870.912 379.124Z"/>
<path fill="#0050ff" d="M859.219 367.627L869.094 380.127L859.219 392.627L849.344 380.127Z"/>
<path fill="#0050ff" d="M842.165 397.722L852.04 410.222L842.165 422.722L832.29 410.222Z"/>
<path fill="#0050ff" d="M754 464.76L764.46 478L754 491.24L743.54 478Z"/>
<path fill="#0050ff" d="M730 508.76L740.46 522L730 535.24L719.54 522Z"/>
<path fill="#0050ff" d="M810 456.76L820.46 470L810 483.24L799.54 470Z"/>
<path fill="#0050ff" d="M836 408.76L846.46 422L836 435.24L825.54 422Z"/>
<path fill="#0050ff" d="M844 392.76L854.46 406L844 419.24L833.54 406Z"/>
<path fill="#0050ff" d="M726 468.76L736.46 482L726 495.24L715.54 482Z"/>
<path fill="#0050ff" d="M746.21 439.665L756.085 452.165L746.21 464.665L736.335 452.165Z"/>
<path fill="#0050ff" d="M789.346 448.694L799.221 461.194L789.346 473.694L779.471 461.194Z"/>
<path fill="#0050ff" d="M767.276 465.748L777.151 478.248L767.276 490.748L757.401 478.248Z"/>
<path fill="#0050ff" d="M720.127 459.729L730.002 472.229L720.127 484.729L710.252 472.229Z"/>
<path fill="#0040ff" d="M227.6 332.03L237.846 345L227.6 357.97L217.354 345Z"/>
<path fill="#0040ff" d="M239 338.63L249.246 351.6L239 364.57L228.754 351.6Z"/>
<path fill="#0040ff" d="M251 344.03L261.246 357L251 369.97L240.754 357Z"/>
<path fill="#0040ff" d="M266 347.43L276.246 360.4L266 373.37L255.754 360.4Z"/>
<path fill="#0040ff" d="M418 395.03L428.246 408L418 420.97L407.754 408Z"/>
<path fill="#0040ff" d="M424 306.03L434.246 319L424 331.97L413.754 319Z"/>
<path fill="#0040ff" d="M436 313.03L446.246 326L436 338.97L425.754 326Z"/>
<path fill="#0040ff" d="M448 320.03L458.246 333L448 345.97L437.754 333Z"/>
<path fill="#0040ff" d="M459 327.03L469.246 340L459 352.97L448.754 340Z"/>
<path fill="#0040ff" d="M467 385.43L477.246 398.4L467 411.37L456.754 398.4Z"/>
<path fill="#0040ff" d="M472.006 334.554L482.253 347.524L472.006 360.494L461.76 347.524Z"/>
<path fill="#0040ff" d="M521.162 385.214L531.408 398.184L521.162 411.154L510.916 398.184Z"/>
<path fill="#0040ff" d="M514.187 564.665L524.062 577.165L514.187 589.665L504.312 577.165Z"/>
<path fill="#0040ff" d="M525.222 577.706L535.097 590.206L525.222 602.706L515.347 590.206Z"/>
<path fill="#0040ff" d="M492.619 616.83L502.494 629.33L492.619 641.83L482.744 629.33Z"/>
<path fill="#0040ff" d="M473.559 631.375L483.039 643.375L473.559 655.375L464.079 643.375Z"/>
<path fill="#0040ff" d="M692.251 515.573L702.126 528.073L692.251 540.573L682.376 528.073Z"/>
<path fill="#0040ff" d="M781.321 449.697L791.196 462.197L781.321 474.697L771.446 462.197Z"/>
<path fill="#0040ff" d="M848.686 328L858.166 340L848.686 352L839.206 340Z"/>
<path fill="#0040ff" d="M828 425.03L838.246 438L828 450.97L817.754 438Z"/>
<path fill="#0040ff" d="M740 495.03L750.246 508L740 520.97L729.754 508Z"/>
<path fill="#0040ff" d="M856 377.03L866.246 390L856 402.97L845.754 390Z"/>
<path fill="#0040ff" d="M718 517.03L728.246 530L718 542.97L707.754 530Z"/>
<path fill="#0030ff" d="M430 392.3L440.033 405L430 417.7L419.967 405Z"/>
<path fill="#0030ff" d="M442 389.7L452.033 402.4L442 415.1L431.967 402.4Z"/>
<path fill="#0030ff" d="M454 387.3L464.033 400L454 412.7L443.967 400Z"/>
<path fill="#0030ff" d="M424 407.3L434.033 420L424 432.7L413.967 420Z"/>
<path fill="#0030ff" d="M430 419.3L440.033 432L430 444.7L419.967 432Z"/>
<path fill="#0030ff" d="M432 430.3L442.033 443L432 455.7L421.967 443Z"/>
<path fill="#0030ff" d="M433 441.3L443.033 454L433 466.7L422.967 454Z"/>
<path fill="#0030ff" d="M433 451.3L443.033 464L433 476.7L422.967 464Z"/>
<path fill="#0030ff" d="M524.171 398.024L534.204 410.724L524.171 423.424L514.138 410.724Z"/>
<path fill="#0030ff" d="M503.105 336.329L513.138 349.029L503.105 361.729L493.072 349.029Z"/>
<path fill="#0030ff" d="M473 631.5L482.085 643L473 654.5L463.915 643Z"/>
<path fill="#0030ff" d="M632.06 558.71L641.935 571.21L632.06 583.71L622.185 571.21Z"/>
<path fill="#0030ff" d="M651.121 543.662L660.996 556.162L651.121 568.662L641.246 556.162Z"/>
<path fill="#0030ff" d="M657.14 536.64L667.015 549.14L657.14 561.64L647.265 549.14Z"/>
<path fill="#0030ff" d="M657.14 571.744L665.435 582.244L657.14 592.744L648.845 582.244Z"/>
<path fill="#0030ff" d="M707.298 497.013L716.778 509.013L707.298 521.013L697.818 509.013Z"/>
<path fill="#0030ff" d="M754.235 485.308L763.715 497.308L754.235 509.308L744.755 497.308Z"/>
<path fill="#0030ff" d="M700.063 498.349L709.543 510.349L700.063 522.349L690.583 510.349Z"/>
<path fill="#0030ff" d="M692.038 505.371L701.518 517.371L692.038 529.371L682.558 517.371Z"/>
<path fill="#0030ff" d="M854.203 390.197L863.683 402.197L854.203 414.197L844.723 402.197Z"/>
<path fill="#0030ff" d="M433 659L441.69 670L433 681L424.31 670Z"/>
<path fill="#0030ff" d="M453.4 645L462.09 656L453.4 667L444.71 656Z"/>
<path fill="#0030ff" d="M1065.6 448.2L1074.13 459L1065.6 469.8L1057.07 459Z"/>
<path fill="#0030ff" d="M1065.6 639.2L1074.13 650L1065.6 660.8L1057.07 650Z"/>
<path fill="#0030ff" d="M816 403.3L826.033 416L816 428.7L805.967 416Z"/>
<path fill="#0030ff" d="M782 457.3L792.033 470L782 482.7L771.967 470Z"/>
<path fill="#0020ff" d="M474 312.57L483.82 325L474 337.43L464.18 325Z"/>
<path fill="#0020ff" d="M484 321.17L493.82 333.6L484 346.03L474.18 333.6Z"/>
<path fill="#0020ff" d="M512.133 342.618L521.953 355.048L512.133 367.478L502.314 355.048Z"/>
<path fill="#0020ff" d="M714.321 532.121L723.011 543.121L714.321 554.121L705.631 543.121Z"/>
<path fill="#0020ff" d="M713.317 503.032L722.797 515.032L713.317 527.032L703.837 515.032Z"/>
<path fill="#0020ff" d="M721.343 499.019L730.823 511.019L721.343 523.019L711.863 511.019Z"/>
<path fill="#0020ff" d="M712.102 433.143L721.582 445.143L712.102 457.143L702.622 445.143Z"/>
<path fill="#0020ff" d="M813.422 408.063L822.902 420.063L813.422 432.063L803.942 420.063Z"/>
<path fill="#0020ff" d="M825.46 394.019L834.94 406.019L825.46 418.019L815.98 406.019Z"/>
<path fill="#0020ff" d="M823.454 436.152L832.934 448.152L823.454 460.152L813.974 448.152Z"/>
<path fill="#0020ff" d="M820.444 462.235L829.924 474.235L820.444 486.235L810.964 474.235Z"/>
<path fill="#0020ff" d="M760.254 460.229L769.734 472.229L760.254 484.229L750.774 472.229Z"/>
<path fill="#0020ff" d="M780.317 470.26L789.797 482.26L780.317 494.26L770.837 482.26Z"/>
<path fill="#0020ff" d="M711.098 464.241L720.578 476.241L711.098 488.241L701.618 476.241Z"/>
<path fill="#0020ff" d="M729.156 460.229L738.636 472.229L729.156 484.229L719.676 472.229Z"/>
<path fill="#0020ff" d="M713.105 500.356L722.585 512.356L713.105 524.356L703.625 512.356Z"/>
<path fill="#0020ff" d="M895.333 387.684L903.628 398.184L895.333 408.684L887.038 398.184Z"/>
<path fill="#0020ff" d="M854.203 413.27L863.683 425.27L854.203 437.27L844.723 425.27Z"/>
<path fill="#0020ff" d="M493.4 791.5L501.695 802L493.4 812.5L485.105 802Z"/>
<path fill="#0020ff" d="M829.4 560.4L837.3 570.4L829.4 580.4L821.5 570.4Z"/>
<path fill="#0020ff" d="M822 441.57L831.82 454L822 466.43L812.18 454Z"/>
<path fill="#0010ff" d="M520.159 352.215L529.133 363.575L520.159 374.935L511.184 363.575Z"/>
<path fill="#0010ff" d="M747.425 505.538L756.51 517.038L747.425 528.538L738.34 517.038Z"/>
<path fill="#0010ff" d="M728.365 520.086L737.845 532.086L728.365 544.086L718.885 532.086Z"/>
<path fill="#0010ff" d="M729.368 512.06L738.848 524.06L729.368 536.06L719.888 524.06Z"/>
<path fill="#0010ff" d="M719.124 436.152L728.604 448.152L719.124 460.152L709.644 448.152Z"/>
<path fill="#0010ff" d="M828.47 412.076L837.95 424.076L828.47 436.076L818.99 424.076Z"/>
<path fill="#0010ff" d="M807.403 503.362L816.093 514.362L807.403 525.362L798.713 514.362Z"/>
<path fill="#0010ff" d="M710.095 471.263L719.575 483.263L710.095 495.263L700.615 483.263Z"/>
<path fill="#0010ff" d="M744.203 501.359L753.683 513.359L744.203 525.359L734.723 513.359Z"/>
<path fill="#0010ff" d="M730.159 483.302L739.639 495.302L730.159 507.302L720.679 495.302Z"/>
<path fill="#0010ff" d="M722.133 490.324L731.613 502.324L722.133 514.324L712.653 502.324Z"/>
<path fill="#0010ff" d="M916.4 371.132L924.695 381.632L916.4 392.132L908.105 381.632Z"/>
<path fill="#0010ff" d="M932.451 372.637L940.746 383.137L932.451 393.637L924.156 383.137Z"/>
<path fill="#0010ff" d="M895.333 402.732L903.628 413.232L895.333 423.732L887.038 413.232Z"/>
<path fill="#0010ff" d="M852.197 404.241L861.677 416.241L852.197 428.241L842.717 416.241Z"/>
<path fill="#0010ff" d="M845.175 416.279L854.655 428.279L845.175 440.279L835.695 428.279Z"/>
<path fill="#0000ff" d="M492.07 330.916L500.831 342.006L492.07 353.096L483.309 342.006Z"/>
<path fill="#0000ff" d="M712.387 432.269L721.148 443.359L712.387 454.449L703.626 443.359Z"/>
<path fill="#0000ff" d="M719.41 434.275L728.171 445.365L719.41 456.455L710.648 445.365Z"/>
<path fill="#0000ff" d="M464.029 573.184L471.929 583.184L464.029 593.184L456.129 583.184Z"/>
<path fill="#0000ff" d="M476.067 573.686L483.967 583.686L476.067 593.686L468.167 583.686Z"/>
<path fill="#0000ff" d="M488.105 574.187L496.005 584.187L488.105 594.187L480.205 584.187Z"/>
<path fill="#0000ff" d="M611.495 577.7L619.79 588.2L611.495 598.7L603.2 588.2Z"/>
<path fill="#0000ff" d="M611 577.5L619.295 588L611 598.5L602.705 588Z"/>
<path fill="#0000ff" d="M613 577.763L621.295 588.263L613 598.763L604.705 588.263Z"/>
<path fill="#0000ff" d="M776.305 435.149L785.785 447.149L776.305 459.149L766.825 447.149Z"/>
<path fill="#0000ff" d="M820.444 421.105L829.924 433.105L820.444 445.105L810.964 433.105Z"/>
<path fill="#0000ff" d="M778.311 460.729L787.396 472.229L778.311 483.729L769.226 472.229Z"/>
<path fill="#0000ff" d="M759.251 474.773L768.336 486.273L759.251 497.773L750.166 486.273Z"/>
<path fill="#0000ff" d="M877.276 418.783L885.571 429.283L877.276 439.783L868.981 429.283Z"/>
<path fill="#0000ff" d="M854.203 374.146L863.683 386.146L854.203 398.146L844.723 386.146Z"/>
<path fill="#0000ff" d="M373 577.5L381.295 588L373 598.5L364.705 588Z"/>
<path fill="#0000ff" d="M384 574.5L392.295 585L384 595.5L375.705 585Z"/>
<path fill="#0000ff" d="M395 569.5L403.295 580L395 590.5L386.705 580Z"/>
<path fill="#0000ff" d="M406 565.1L414.295 575.6L406 586.1L397.705 575.6Z"/>
<path fill="#0000ff" d="M417 561.5L425.295 572L417 582.5L408.705 572Z"/>
<path fill="#0000ff" d="M428 566.5L436.295 577L428 587.5L419.705 577Z"/>
<path fill="#0000ff" d="M440 568.5L448.295 579L440 589.5L431.705 579Z"/>
<path fill="#0000ff" d="M452 570.5L460.295 581L452 591.5L443.705 581Z"/>
<path fill="#0000ef" d="M669.178 532.121L677.868 543.121L669.178 554.121L660.488 543.121Z"/>
<path fill="#0000ef" d="M760.968 528.606L768.868 538.606L760.968 548.606L753.068 538.606Z"/>
<path fill="#0000ef" d="M739.601 551.178L747.501 561.178L739.601 571.178L731.701 561.178Z"/>
<path fill="#0000ef" d="M691.537 478.281L699.832 488.781L691.537 499.281L683.242 488.781Z"/>
<path fill="#0000ef" d="M757.244 441.165L765.934 452.165L757.244 463.165L748.554 452.165Z"/>
<path fill="#0000ef" d="M810.413 398.532L819.498 410.032L810.413 421.532L801.328 410.032Z"/>
<path fill="#0000ef" d="M794.362 440.665L803.447 452.165L794.362 463.665L785.277 452.165Z"/>
<path fill="#0000ef" d="M737.181 495.84L746.266 507.34L737.181 518.84L728.096 507.34Z"/>
<path fill="#0000ef" d="M849.187 381.668L858.272 393.168L849.187 404.668L840.102 393.168Z"/>
<path fill="#0000df" d="M456 297.45L464.334 308L456 318.55L447.666 308Z"/>
<path fill="#0000df" d="M463.6 304.45L471.935 315L463.6 325.55L455.266 315Z"/>
<path fill="#0000df" d="M736.39 497.01L745.08 508.01L736.39 519.01L727.7 508.01Z"/>
<path fill="#0000df" d="M726.359 567.73L734.259 577.73L726.359 587.73L718.459 577.73Z"/>
<path fill="#0000df" d="M714.822 582.276L722.722 592.276L714.822 602.276L706.922 592.276Z"/>
<path fill="#0000df" d="M809.41 451.197L818.1 462.197L809.41 473.197L800.72 462.197Z"/>
<path fill="#0000df" d="M875.27 405.738L882.775 415.238L875.27 424.738L867.765 415.238Z"/>
<path fill="#0000df" d="M892.324 456.9L899.829 466.4L892.324 475.9L884.819 466.4Z"/>
<path fill="#0000af" d="M814.425 459.722L822.72 470.222L814.425 480.722L806.13 470.222Z"/>
<path fill="#0000af" d="M752.229 480.286L760.129 490.286L752.229 500.286L744.329 490.286Z"/>
</g>
<g stroke="#000" stroke-width="1" fill="none" shape-rendering="crispEdges">
<path d="M158 960.5H1235"/>
<path d="M158.5 961V950"/>
<path d="M270.5 961V950"/>
<path d="M384.5 961V950"/>
<path d="M497.5 961V950"/>
<path d="M611.5 961V950"/>
<path d="M724.5 961V950"/>
<path d="M838.5 961V950"/>
<path d="M950.5 961V950"/>
<path d="M1064.5 961V950"/>
<path d="M1178.5 961V950"/>
<path d="M158 180.5H168"/>
<path d="M158 291.5H168"/>
<path d="M158 402.5H168"/>
<path d="M158 514.5H168"/>
<path d="M158 625.5H168"/>
<path d="M158 738.5H168"/>
<path d="M158 848.5H168"/>
<path d="M158 960.5H168"/>
</g>
<g font-size="22.2" text-anchor="middle">
<text transform="translate(158.5 993) scale(0.92 1)">80</text>
<text transform="translate(270.5 993) scale(0.92 1)">90</text>
<text transform="translate(384.5 993) scale(0.92 1)">100</text>
<text transform="translate(497.5 993) scale(0.92 1)">110</text>
<text transform="translate(611.5 993) scale(0.92 1)">120</text>
<text transform="translate(724.5 993) scale(0.92 1)">130</text>
<text transform="translate(838.5 993) scale(0.92 1)">140</text>
<text transform="translate(950.5 993) scale(0.92 1)">150</text>
<text transform="translate(1064.5 993) scale(0.92 1)">160</text>
<text transform="translate(1178.5 993) scale(0.92 1)">170</text>
</g>
<g font-size="22.2" text-anchor="end">
<text transform="translate(152 191.5) scale(0.92 1)">60</text>
<text transform="translate(152 302.5) scale(0.92 1)">50</text>
<text transform="translate(152 413.5) scale(0.92 1)">40</text>
<text transform="translate(152 525.5) scale(0.92 1)">30</text>
<text transform="translate(152 636.5) scale(0.92 1)">20</text>
<text transform="translate(152 749.5) scale(0.92 1)">10</text>
<text transform="translate(152 859.5) scale(0.92 1)">0</text>
<text transform="translate(152 971.5) scale(0.92 1)">-10</text>
</g>
<text font-size="22.2" text-anchor="middle" x="693.5" y="1022">longitude</text>
<text font-size="22.2" text-anchor="middle" transform="translate(110.3 573) rotate(-90)">latitude</text>
<g font-size="29.2" text-anchor="middle">
<text transform="translate(695.5 81) scale(0.983 1)">AIRCRAFT_TEMPERATURE level (16240.00 - 76503.34)</text>
<text transform="translate(697 121) scale(0.988 1)">11-Aug-2008 01:30:01 - 11-Aug-2008 04:30:00</text>
<text transform="translate(696.3 161) scale(0.986 1)">NCEP BUFR observation (1090 locations)</text>
</g>
<g shape-rendering="crispEdges">
<rect x="1267" y="949.78" width="43" height="12.82" fill="#00008f"/>
<rect x="1267" y="937.56" width="43" height="12.82" fill="#00009f"/>
<rect x="1267" y="925.34" width="43" height="12.82" fill="#0000af"/>
<rect x="1267" y="913.12" width="43" height="12.82" fill="#0000bf"/>
<rect x="1267" y="900.91" width="43" height="12.82" fill="#0000cf"/>
<rect x="1267" y="888.69" width="43" height="12.82" fill="#0000df"/>
<rect x="1267" y="876.47" width="43" height="12.82" fill="#0000ef"/>
<rect x="1267" y="864.25" width="43" height="12.82" fill="#0000ff"/>
<rect x="1267" y="852.03" width="43" height="12.82" fill="#0010ff"/>
<rect x="1267" y="839.81" width="43" height="12.82" fill="#0020ff"/>
<rect x="1267" y="827.59" width="43" height="12.82" fill="#0030ff"/>
<rect x="1267" y="815.38" width="43" height="12.82" fill="#0040ff"/>
<rect x="1267" y="803.16" width="43" height="12.82" fill="#0050ff"/>
<rect x="1267" y="790.94" width="43" height="12.82" fill="#0060ff"/>
<rect x="1267" y="778.72" width="43" height="12.82" fill="#0070ff"/>
<rect x="1267" y="766.50" width="43" height="12.82" fill="#0080ff"/>
<rect x="1267" y="754.28" width="43" height="12.82" fill="#008fff"/>
<rect x="1267" y="742.06" width="43" height="12.82" fill="#009fff"/>
<rect x="1267" y="729.84" width="43" height="12.82" fill="#00afff"/>
<rect x="1267" y="717.62" width="43" height="12.82" fill="#00bfff"/>
<rect x="1267" y="705.41" width="43" height="12.82" fill="#00cfff"/>
<rect x="1267" y="693.19" width="43" height="12.82" fill="#00dfff"/>
<rect x="1267" y="680.97" width="43" height="12.82" fill="#00efff"/>
<rect x="1267" y="668.75" width="43" height="12.82" fill="#00ffff"/>
<rect x="1267" y="656.53" width="43" height="12.82" fill="#10ffef"/>
<rect x="1267" y="644.31" width="43" height="12.82" fill="#20ffdf"/>
<rect x="1267" y="632.09" width="43" height="12.82" fill="#30ffcf"/>
<rect x="1267" y="619.88" width="43" height="12.82" fill="#40ffbf"/>
<rect x="1267" y="607.66" width="43" height="12.82" fill="#50ffaf"/>
<rect x="1267" y="595.44" width="43" height="12.82" fill="#60ff9f"/>
<rect x="1267" y="583.22" width="43" height="12.82" fill="#70ff8f"/>
<rect x="1267" y="571.00" width="43" height="12.82" fill="#80ff80"/>
<rect x="1267" y="558.78" width="43" height="12.82" fill="#8fff70"/>
<rect x="1267" y="546.56" width="43" height="12.82" fill="#9fff60"/>
<rect x="1267" y="534.34" width="43" height="12.82" fill="#afff50"/>
<rect x="1267" y="522.12" width="43" height="12.82" fill="#bfff40"/>
<rect x="1267" y="509.91" width="43" height="12.82" fill="#cfff30"/>
<rect x="1267" y="497.69" width="43" height="12.82" fill="#dfff20"/>
<rect x="1267" y="485.47" width="43" height="12.82" fill="#efff10"/>
<rect x="1267" y="473.25" width="43" height="12.82" fill="#ffff00"/>
<rect x="1267" y="461.03" width="43" height="12.82" fill="#ffef00"/>
<rect x="1267" y="448.81" width="43" height="12.82" fill="#ffdf00"/>
<rect x="1267" y="436.59" width="43" height="12.82" fill="#ffcf00"/>
<rect x="1267" y="424.38" width="43" height="12.82" fill="#ffbf00"/>
<rect x="1267" y="412.16" width="43" height="12.82" fill="#ffaf00"/>
<rect x="1267" y="399.94" width="43" height="12.82" fill="#ff9f00"/>
<rect x="1267" y="387.72" width="43" height="12.82" fill="#ff8f00"/>
<rect x="1267" y="375.50" width="43" height="12.82" fill="#ff8000"/>
<rect x="1267" y="363.28" width="43" height="12.82" fill="#ff7000"/>
<rect x="1267" y="351.06" width="43" height="12.82" fill="#ff6000"/>
<rect x="1267" y="338.84" width="43" height="12.82" fill="#ff5000"/>
<rect x="1267" y="326.62" width="43" height="12.82" fill="#ff4000"/>
<rect x="1267" y="314.41" width="43" height="12.82" fill="#ff3000"/>
<rect x="1267" y="302.19" width="43" height="12.82" fill="#ff2000"/>
<rect x="1267" y="289.97" width="43" height="12.82" fill="#ff1000"/>
<rect x="1267" y="277.75" width="43" height="12.82" fill="#ff0000"/>
<rect x="1267" y="265.53" width="43" height="12.82" fill="#ef0000"/>
<rect x="1267" y="253.31" width="43" height="12.82" fill="#df0000"/>
<rect x="1267" y="241.09" width="43" height="12.82" fill="#cf0000"/>
<rect x="1267" y="228.88" width="43" height="12.82" fill="#bf0000"/>
<rect x="1267" y="216.66" width="43" height="12.82" fill="#af0000"/>
<rect x="1267" y="204.44" width="43" height="12.82" fill="#9f0000"/>
<rect x="1267" y="192.22" width="43" height="12.82" fill="#8f0000"/>
<rect x="1267" y="180.00" width="43" height="12.82" fill="#800000"/>
<rect x="1267.5" y="180.5" width="43" height="782" fill="none" stroke="#000" stroke-width="1"/>
<g stroke="#000" stroke-width="1">
<path d="M1267 873.5H1274M1301 873.5H1310"/>
<path d="M1267 773.5H1274M1301 773.5H1310"/>
<path d="M1267 673.5H1274M1301 673.5H1310"/>
<path d="M1267 573.5H1274M1301 573.5H1310"/>
<path d="M1267 472.5H1274M1301 472.5H1310"/>
<path d="M1267 372.5H1274M1301 372.5H1310"/>
<path d="M1267 272.5H1274M1301 272.5H1310"/>
</g></g>
<g font-size="22.2">
<text transform="translate(1315 884.5) scale(0.92 1)">220</text>
<text transform="translate(1315 784.5) scale(0.92 1)">230</text>
<text transform="translate(1315 684.5) scale(0.92 1)">240</text>
<text transform="translate(1315 584.5) scale(0.92 1)">250</text>
<text transform="translate(1315 483.5) scale(0.92 1)">260</text>
<text transform="translate(1315 383.5) scale(0.92 1)">270</text>
<text transform="translate(1315 283.5) scale(0.92 1)">280</text>
</g>
<text font-size="22.2" text-anchor="middle" transform="translate(1375.3 571.5) rotate(-90)">AIRCRAFT_TEMPERATURE</text>
</svg></body></html>
